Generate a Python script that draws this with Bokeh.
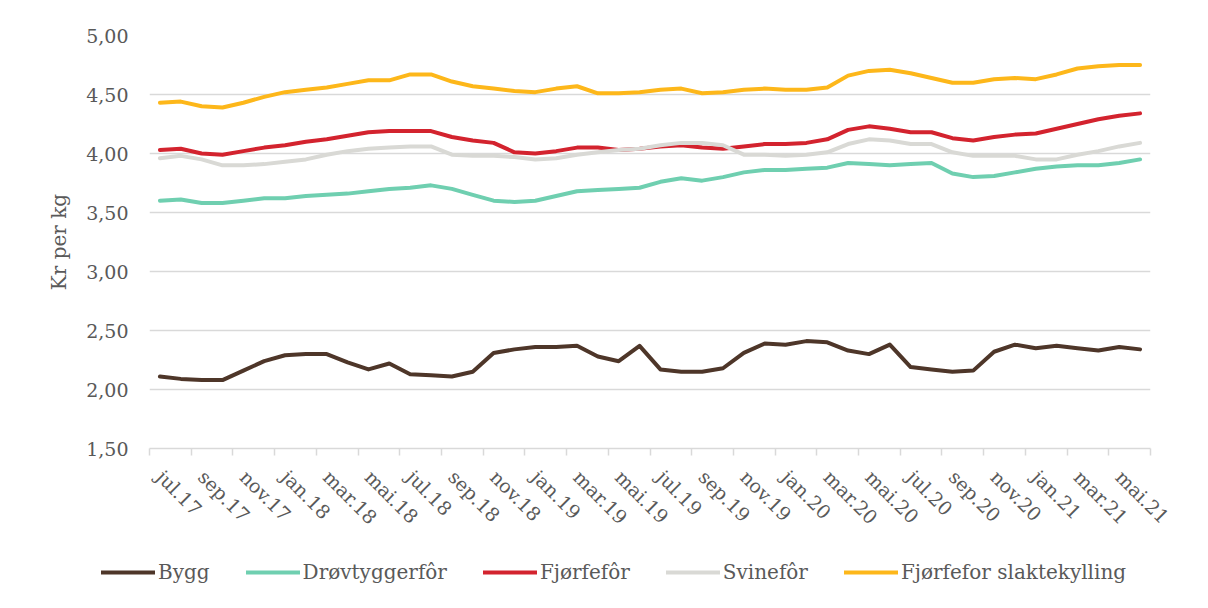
import math
from bokeh.plotting import figure
from bokeh.layouts import column
from bokeh.models import (Range1d, FixedTicker, CustomJSTickFormatter, Legend, LegendItem)
from bokeh.embed import file_html
from bokeh.resources import INLINE

months = [
    "jul.17", "aug.17", "sep.17", "okt.17", "nov.17", "des.17",
    "jan.18", "feb.18", "mar.18", "apr.18", "mai.18", "jun.18",
    "jul.18", "aug.18", "sep.18", "okt.18", "nov.18", "des.18",
    "jan.19", "feb.19", "mar.19", "apr.19", "mai.19", "jun.19",
    "jul.19", "aug.19", "sep.19", "okt.19", "nov.19", "des.19",
    "jan.20", "feb.20", "mar.20", "apr.20", "mai.20", "jun.20",
    "jul.20", "aug.20", "sep.20", "okt.20", "nov.20", "des.20",
    "jan.21", "feb.21", "mar.21", "apr.21", "mai.21", "jun.21",
]

bygg = [2.11, 2.09, 2.08, 2.08, 2.16, 2.24, 2.29, 2.30, 2.30, 2.23, 2.17, 2.22,
        2.13, 2.12, 2.11, 2.15, 2.31, 2.34, 2.36, 2.36, 2.37, 2.28, 2.24, 2.37,
        2.17, 2.15, 2.15, 2.18, 2.31, 2.39, 2.38, 2.41, 2.40, 2.33, 2.30, 2.38,
        2.19, 2.17, 2.15, 2.16, 2.32, 2.38, 2.35, 2.37, 2.35, 2.33, 2.36, 2.34]

drovtygger = [3.60, 3.61, 3.58, 3.58, 3.60, 3.62, 3.62, 3.64, 3.65, 3.66, 3.68, 3.70,
              3.71, 3.73, 3.70, 3.65, 3.60, 3.59, 3.60, 3.64, 3.68, 3.69, 3.70, 3.71,
              3.76, 3.79, 3.77, 3.80, 3.84, 3.86, 3.86, 3.87, 3.88, 3.92, 3.91, 3.90,
              3.91, 3.92, 3.83, 3.80, 3.81, 3.84, 3.87, 3.89, 3.90, 3.90, 3.92, 3.95]

fjorfe = [4.03, 4.04, 4.00, 3.99, 4.02, 4.05, 4.07, 4.10, 4.12, 4.15, 4.18, 4.19,
          4.19, 4.19, 4.14, 4.11, 4.09, 4.01, 4.00, 4.02, 4.05, 4.05, 4.03, 4.04,
          4.06, 4.07, 4.05, 4.04, 4.06, 4.08, 4.08, 4.09, 4.12, 4.20, 4.23, 4.21,
          4.18, 4.18, 4.13, 4.11, 4.14, 4.16, 4.17, 4.21, 4.25, 4.29, 4.32, 4.34]

svine = [3.96, 3.98, 3.95, 3.90, 3.90, 3.91, 3.93, 3.95, 3.99, 4.02, 4.04, 4.05,
         4.06, 4.06, 3.99, 3.98, 3.98, 3.97, 3.95, 3.96, 3.99, 4.01, 4.03, 4.04,
         4.07, 4.09, 4.09, 4.07, 3.99, 3.99, 3.98, 3.99, 4.01, 4.08, 4.12, 4.11,
         4.08, 4.08, 4.01, 3.98, 3.98, 3.98, 3.95, 3.95, 3.99, 4.02, 4.06, 4.09]

slaktekylling = [4.43, 4.44, 4.40, 4.39, 4.43, 4.48, 4.52, 4.54, 4.56, 4.59, 4.62, 4.62,
                 4.67, 4.67, 4.61, 4.57, 4.55, 4.53, 4.52, 4.55, 4.57, 4.51, 4.51, 4.52,
                 4.54, 4.55, 4.51, 4.52, 4.54, 4.55, 4.54, 4.54, 4.56, 4.66, 4.70, 4.71,
                 4.68, 4.64, 4.60, 4.60, 4.63, 4.64, 4.63, 4.67, 4.72, 4.74, 4.75, 4.75]

series_names = ["Bygg", "Drøvtyggerfôr", "Fjørfefôr", "Svinefôr", "Fjørfefor slaktekylling"]
series_values = [bygg, drovtygger, fjorfe, svine, slaktekylling]
series_colors = ["#4e3629", "#6fcfb0", "#d3232e", "#d9d9d5", "#fdb71a"]

y_ticks = [1.5, 2.0, 2.5, 3.0, 3.5, 4.0, 4.5, 5.0]

FONT = "DejaVu Serif"
TXT = "#595959"
GRID = "#d9d9d9"

x = list(range(len(months)))

MAIN_H = 545
p = figure(width=1200, height=MAIN_H, output_backend="svg", toolbar_location=None,
           x_range=Range1d(-0.5, len(months) - 0.5), y_range=Range1d(1.5, 5.0),
           min_border_left=149, min_border_right=50, min_border_top=35,
           min_border_bottom=MAIN_H - 35 - 413)
p.outline_line_color = None
p.background_fill_color = "white"
p.border_fill_color = "white"

renderers = []
for name, vals, col in zip(series_names, series_values, series_colors):
    r = p.line(x, vals, line_color=col, line_width=4, line_cap="round", line_join="round")
    renderers.append(r)

# y axis
p.yaxis.ticker = FixedTicker(ticks=y_ticks)
p.yaxis.formatter = CustomJSTickFormatter(code="return tick.toFixed(2).replace('.', ',');")
p.yaxis.axis_line_color = None
p.yaxis.major_tick_line_color = None
p.yaxis.major_tick_out = 0
p.yaxis.major_tick_in = 0
p.yaxis.minor_tick_line_color = None
p.yaxis.major_label_standoff = 21
p.yaxis.major_label_text_font = FONT
p.yaxis.major_label_text_font_size = "19px"
p.yaxis.major_label_text_color = TXT
p.yaxis.axis_label = "Kr per kg"
p.yaxis.axis_label_text_font = FONT
p.yaxis.axis_label_text_font_size = "20px"
p.yaxis.axis_label_text_font_style = "normal"
p.yaxis.axis_label_text_color = TXT
p.yaxis.axis_label_standoff = 12

# x axis
label_idx = list(range(0, len(months), 2))
boundaries = [i - 0.5 for i in range(0, len(months) + 1, 2)]
p.xaxis.ticker = FixedTicker(ticks=label_idx, minor_ticks=boundaries)
p.xaxis.major_label_overrides = {i: months[i] for i in label_idx}
p.xaxis.major_label_orientation = -math.pi / 4
p.xaxis.axis_line_color = GRID
p.xaxis.axis_line_width = 1.5
p.xaxis.major_tick_line_color = None
p.xaxis.minor_tick_line_color = GRID
p.xaxis.minor_tick_line_width = 1.5
p.xaxis.minor_tick_out = 7
p.xaxis.minor_tick_in = 0
p.xaxis.major_label_standoff = 18
p.xaxis.major_label_text_font = FONT
p.xaxis.major_label_text_font_size = "19px"
p.xaxis.major_label_text_color = TXT

p.xgrid.grid_line_color = None
p.ygrid.ticker = FixedTicker(ticks=y_ticks)
p.ygrid.grid_line_color = GRID
p.ygrid.grid_line_width = 1.5

# legend in a separate strip below the chart
LEG_H = 55
lg = figure(width=1200, height=LEG_H, output_backend="svg", toolbar_location=None,
            x_range=Range1d(0, 1), y_range=Range1d(0, 1),
            min_border_left=0, min_border_right=0, min_border_top=0, min_border_bottom=0)
lg.frame_align = False
lg.axis.visible = False
lg.grid.visible = False
lg.outline_line_color = None
lg.border_fill_color = "white"
lg.background_fill_color = "white"

leg_renderers = []
for name, col in zip(series_names, series_colors):
    # swatch-only renderers, placed outside the visible range
    r = lg.line([5, 6], [5, 6], line_color=col, line_width=4, line_cap="round")
    leg_renderers.append(r)

legend = Legend(items=[LegendItem(label=n, renderers=[r]) for n, r in zip(series_names, leg_renderers)],
                orientation="horizontal", location=(101, 16),
                glyph_width=54, glyph_height=20, label_standoff=3, spacing=36,
                padding=0, margin=0, border_line_alpha=0, background_fill_alpha=0,
                label_text_font=FONT, label_text_font_size="20px", label_text_color=TXT)
lg.add_layout(legend, "center")

layout = column(p, lg, spacing=0)
open("out.html", "w").write(file_html(layout, INLINE))
